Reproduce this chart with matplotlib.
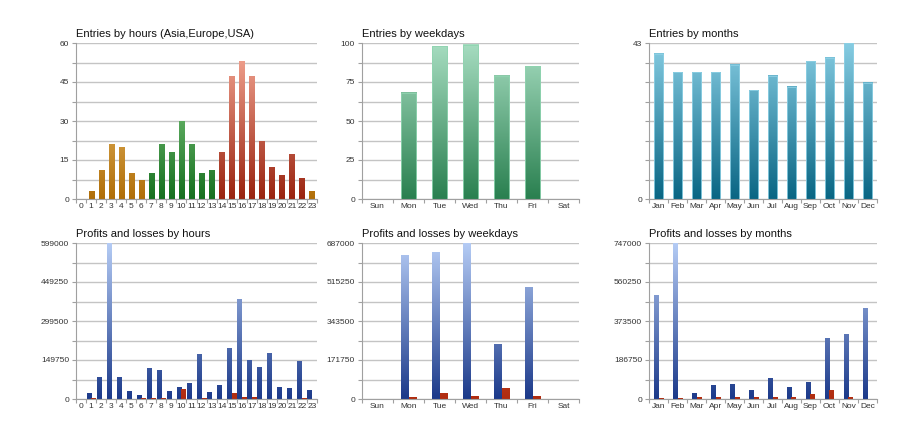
import numpy as np
import matplotlib.pyplot as plt
from matplotlib.colors import LinearSegmentedColormap

plt.rcParams['font.family'] = ['Liberation Sans', 'DejaVu Sans']

# ---- data ----
hours = [str(h) for h in range(24)]
hour_entries = [0, 3, 11, 21, 20, 10, 7, 10, 21, 18, 30, 21, 10, 11,
                18, 47, 53, 47, 22, 12, 9, 17, 8, 3]
# session of each hour: 'asia', 'europe', 'usa'
hour_session = ['asia'] * 7 + ['europe'] * 7 + ['usa'] * 9 + ['asia']

weekdays = ['Sun', 'Mon', 'Tue', 'Wed', 'Thu', 'Fri', 'Sat']
weekday_entries = [0, 68, 98, 99, 79, 85, 0]

months = ['Jan', 'Feb', 'Mar', 'Apr', 'May', 'Jun',
          'Jul', 'Aug', 'Sep', 'Oct', 'Nov', 'Dec']
month_entries = [40, 35, 35, 35, 37, 30, 34, 31, 38, 39, 43, 32]

hour_profit = [0, 20000, 84000, 599000, 84000, 29000, 13000, 116000, 109000,
               29000, 44000, 58000, 170000, 26000, 51000, 192000, 381000,
               147000, 120000, 173000, 46000, 42000, 145000, 32000]
hour_loss = [0, 2000, 0, 0, 0, 0, 3000, 2000, 2000, 0, 37000, 0, 3000, 0,
             0, 20000, 7500, 6000, 0, 0, 0, 0, 3000, 0]

weekday_profit = [0, 634000, 647000, 687000, 242000, 493000, 0]
weekday_loss = [0, 6000, 26000, 11500, 45500, 13000, 0]

month_profit = [496000, 747000, 25500, 65000, 68500, 40000, 99000, 56000,
                80000, 290000, 311000, 431000]
month_loss = [3000, 3000, 6400, 8000, 8000, 6400, 4800, 6400, 22000, 41500,
              6400, 0]

# ---- gradient colour maps (bottom of axes -> top of axes) ----
def cmap(name, lo, hi):
    return LinearSegmentedColormap.from_list(name, [lo, hi])

cm_asia = cmap('asia', '#b06e08', '#ffd88c')
cm_europe = cmap('europe', '#17701f', '#9be09a')
cm_usa = cmap('usa', '#9a2410', '#f7ab98')
cm_week = cmap('week', '#2a8050', '#a6dcc0')
cm_month = cmap('month', '#0a6684', '#86cce2')
cm_profit = cmap('profit', '#1c3a8a', '#b4cbf4')
cm_loss = cmap('loss', '#b02c10', '#f08a60')


def gradient_bars(ax, x, heights, width, cmaps, ymax, align='center', edge=None):
    bars = ax.bar(x, heights, width=width, align=align, color='none',
                  edgecolor=edge if edge else 'none', linewidth=0.6, zorder=3)
    for bar, h, cm in zip(bars, heights, cmaps):
        if h <= 0:
            continue
        x0 = bar.get_x()
        x1 = x0 + bar.get_width()
        grad = np.linspace(0, h / ymax, 64).reshape(-1, 1)
        ax.imshow(grad, cmap=cm, vmin=0, vmax=1, origin='lower',
                  extent=[min(x0, x1), max(x0, x1), 0, h], aspect='auto',
                  interpolation='bilinear', zorder=2)
    return bars


def style_axes(ax, labels, ymax, yticks, ylabels, title):
    n = len(labels)
    ax.set_xlim(-0.5, n - 0.5)
    ax.set_ylim(0, ymax)
    ax.set_xticks(range(n))
    ax.set_xticklabels(labels, fontsize=6, color='#333333')
    ax.set_xticks(np.arange(n + 1) - 0.5, minor=True)
    ax.tick_params(axis='x', which='major', length=0, pad=3)
    ax.tick_params(axis='x', which='minor', length=3, color='#a0a0a0', width=0.8)
    ax.set_yticks(yticks)
    ax.set_yticklabels(ylabels, fontsize=6, color='#333333')
    ax.set_yticks([ymax * k / 8 for k in range(9)], minor=True)
    ax.tick_params(axis='y', which='both', length=3, color='#a0a0a0', width=0.8, pad=2)
    ax.grid(True, axis='y', which='both', color='#c4c4c4', linewidth=1.0, zorder=0)
    ax.set_axisbelow(True)
    for s in ['top', 'right']:
        ax.spines[s].set_visible(False)
    for s in ['left', 'bottom']:
        ax.spines[s].set_color('#a0a0a0')
        ax.spines[s].set_linewidth(0.8)
    ax.set_title(title, loc='left', fontsize=8, pad=4, color='#111111')


def quarter_ticks(m):
    t = [m * k / 4 for k in range(5)]
    return t, ['%g' % v for v in t]


fig = plt.figure(figsize=(9.02, 4.28), dpi=100)
W, H = 902.0, 428.0
lefts = [76, 362, 649]
widths = [241, 217, 228]
tops = [43, 243]
ph = 156


def make_ax(col, row):
    return fig.add_axes([lefts[col] / W, 1 - (tops[row] + ph) / H,
                         widths[col] / W, ph / H])


session_cm = {'asia': cm_asia, 'europe': cm_europe, 'usa': cm_usa}

# entries by hours
ax = make_ax(0, 0)
m = 60
gradient_bars(ax, range(24), hour_entries, 0.5,
              [session_cm[s] for s in hour_session], m)
t, l = quarter_ticks(m)
style_axes(ax, hours, m, t, l, 'Entries by hours (Asia,Europe,USA)')

# entries by weekdays
ax = make_ax(1, 0)
m = 100
gradient_bars(ax, range(7), weekday_entries, 0.5, [cm_week] * 7, m, edge='#8fd4b0')
t, l = quarter_ticks(m)
style_axes(ax, weekdays, m, t, l, 'Entries by weekdays')

# entries by months
ax = make_ax(2, 0)
m = 43
gradient_bars(ax, range(12), month_entries, 0.5, [cm_month] * 12, m, edge='#8ed0e4')
style_axes(ax, months, m, [0, m], ['0', '43'], 'Entries by months')

# profits and losses
panels = [
    (0, hours, hour_profit, hour_loss, 599000, 0.45, 'Profits and losses by hours'),
    (1, weekdays, weekday_profit, weekday_loss, 687000, 0.25, 'Profits and losses by weekdays'),
    (2, months, month_profit, month_loss, 747000, 0.24, 'Profits and losses by months'),
]
for col, labels, prof, loss, m, w, title in panels:
    ax = make_ax(col, 1)
    x = np.arange(len(labels))
    gradient_bars(ax, x, prof, -w, [cm_profit] * len(x), m, align='edge')
    gradient_bars(ax, x, loss, w, [cm_loss] * len(x), m, align='edge')
    t, l = quarter_ticks(m)
    style_axes(ax, labels, m, t, l, title)

plt.savefig('out.png', dpi=100)
